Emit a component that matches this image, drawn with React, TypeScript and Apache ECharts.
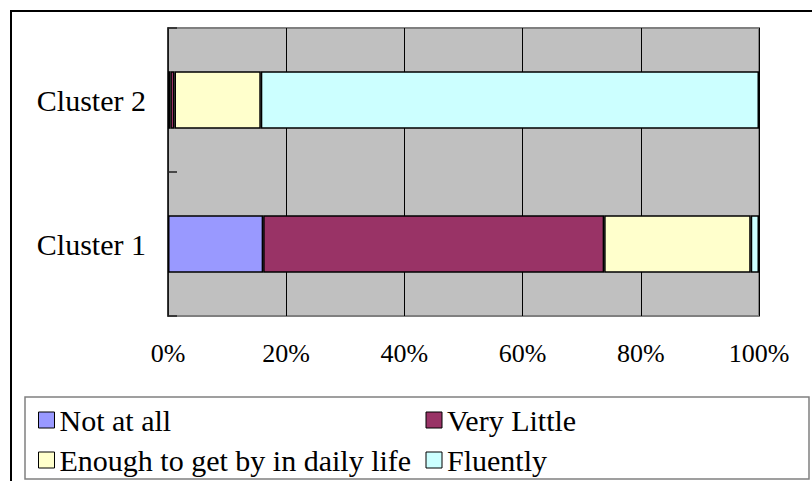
import React, { useEffect, useRef } from "react";
import * as echarts from "echarts";

const categories = ["Cluster 1", "Cluster 2"];
const seriesNames = ["Not at all", "Very Little", "Enough to get by in daily life", "Fluently"];
const notAtAll = [16.1, 0.4];
const veryLittle = [57.7, 0.7];
const enough = [24.8, 14.6];
const fluently = [1.4, 84.3];
const seriesValues = [notAtAll, veryLittle, enough, fluently];
const seriesColors = ["#9999FF", "#993366", "#FFFFCC", "#CCFFFF"];

const FONT = "'Liberation Serif', 'Times New Roman', serif";

export default function App() {
  const ref = useRef<HTMLDivElement>(null);
  useEffect(() => {
    if (!ref.current) return;
    const chart = echarts.init(ref.current, undefined, { renderer: "svg" });
    chart.setOption({
      animation: false,
      backgroundColor: "#ffffff",
      textStyle: { fontFamily: FONT },
      grid: {
        left: 168,
        top: 28,
        width: 591,
        height: 288,
        show: true,
        backgroundColor: "#C0C0C0",
        borderColor: "#808080",
        borderWidth: 2,
        containLabel: false,
      },
      xAxis: {
        type: "value",
        min: 0,
        max: 100,
        interval: 20,
        axisLine: { show: false },
        axisTick: { show: false },
        splitLine: { show: true, lineStyle: { color: "#000", width: 1 } },
        axisLabel: {
          formatter: "{value}%",
          fontFamily: FONT,
          fontSize: 26,
          color: "#000",
          margin: 24,
        },
      },
      yAxis: {
        type: "category",
        data: categories,
        axisLine: { show: true, lineStyle: { color: "#222", width: 1.5 } },
        axisTick: { show: true, inside: true, length: 9, lineStyle: { color: "#222", width: 1.5 } },
        splitLine: { show: false },
        axisLabel: {
          fontFamily: FONT,
          fontSize: 30,
          color: "#000",
          margin: 22,
        },
      },
      legend: {
        left: 38,
        top: 405,
        width: 780,
        padding: 0,
        orient: "horizontal",
        itemWidth: 16,
        itemHeight: 16,
        itemGap: 10,
        icon: "rect",
        data: seriesNames,
        itemStyle: { borderColor: "#000", borderWidth: 1 },
        textStyle: {
          fontFamily: FONT,
          fontSize: 30,
          color: "#000",
          width: 356,
          lineHeight: 30,
          overflow: "none",
        },
      },
      graphic: [
        {
          type: "rect",
          shape: { x: 11, y: 11, width: 830, height: 500 },
          style: { fill: "none", stroke: "#000", lineWidth: 2 },
          silent: true,
        },
        {
          type: "rect",
          shape: { x: 25, y: 397, width: 784, height: 82 },
          style: { fill: "none", stroke: "#808080", lineWidth: 1.5 },
          silent: true,
        },
      ],
      series: seriesNames.map((name, i) => ({
        name,
        type: "bar",
        stack: "total",
        barWidth: "40%",
        data: seriesValues[i],
        itemStyle: { color: seriesColors[i], borderColor: "#000", borderWidth: 1.5 },
      })),
    });
    return () => chart.dispose();
  }, []);
  return (
    <div
      ref={ref}
      style={{ position: "absolute", left: 0, top: 0, width: 812, height: 481 }}
    />
  );
}
